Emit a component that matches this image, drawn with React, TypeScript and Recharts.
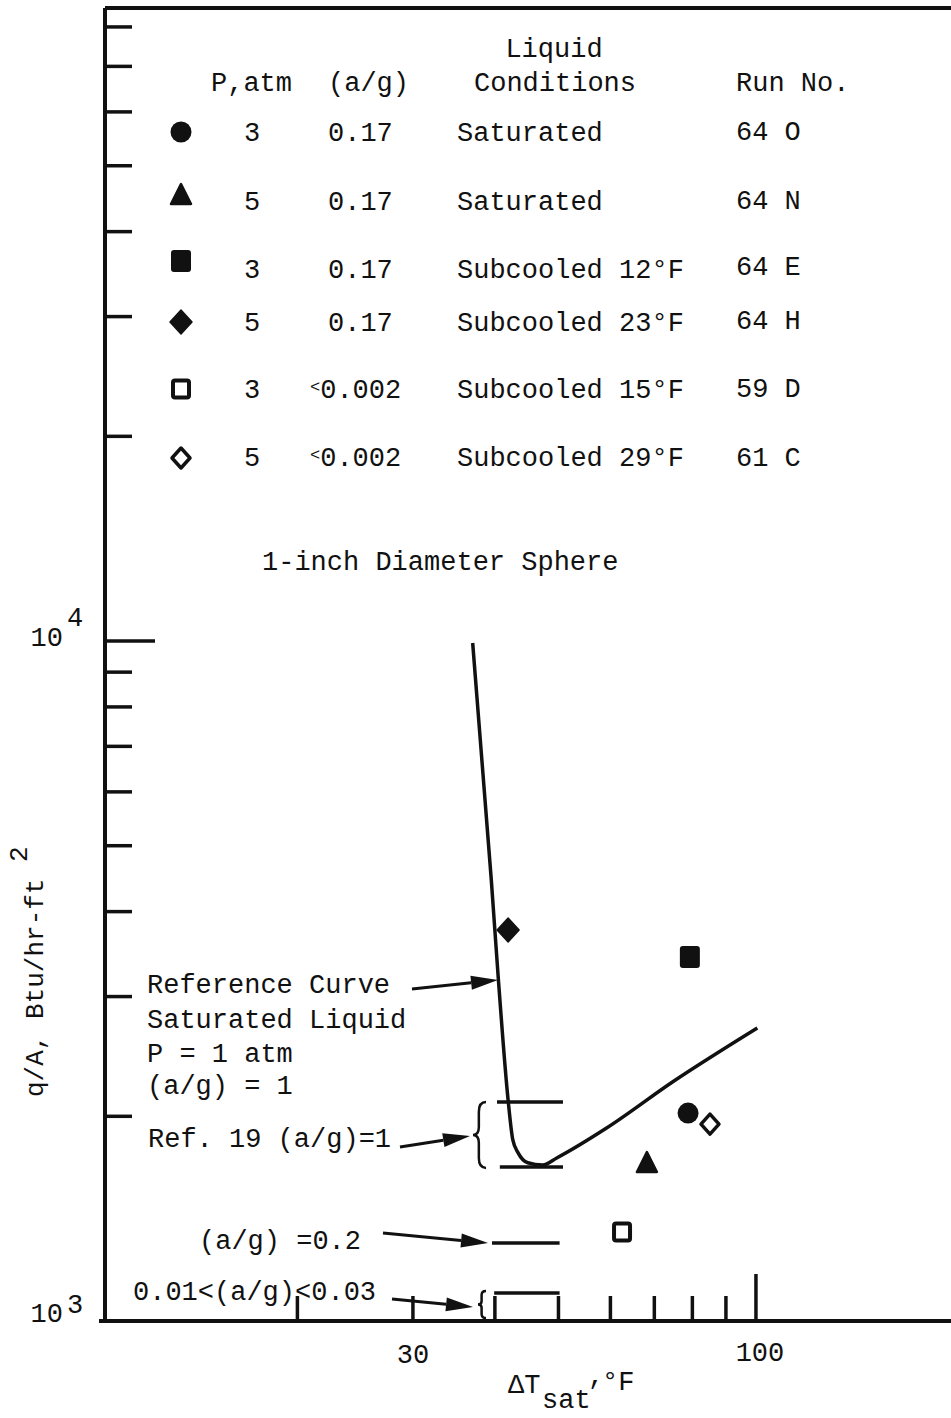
import React from 'react'
import { ComposedChart, XAxis, YAxis, Scatter, Line } from 'recharts'

const W = 951
const H = 1418
const FONT = "'Liberation Mono', 'Courier New', monospace"
const INK = '#111'

// log-log axis ranges
const xDomain = [10.18, 198.3]
const yDomain = [1000, 85300]
const xTicks = [20, 30, 40, 50, 60, 70, 80, 90, 100]
const yTicks = [
  1000, 2000, 3000, 4000, 5000, 6000, 7000, 8000, 9000,
  10000, 20000, 30000, 40000, 50000, 60000, 70000, 80000,
]

// one point per run
const runShape = ['circle', 'triangle', 'square', 'diamond', 'openSquare', 'openDiamond']
const runDeltaT = [78.8, 68.2, 79.3, 41.9, 62.5, 85.1]
const runFlux = [2022, 1696, 3430, 3758, 1352, 1948]
const runP = ['3', '5', '3', '5', '3', '5']
const runAG = ['0.17', '0.17', '0.17', '0.17', '<0.002', '<0.002']
const runCond = ['Saturated', 'Saturated', 'Subcooled 12°F', 'Subcooled 23°F', 'Subcooled 15°F', 'Subcooled 29°F']
const runNo = ['64 O', '64 N', '64 E', '64 H', '59 D', '61 C']

// reference curve, saturated liquid, 1 atm, a/g = 1
const refDeltaT = [37.0, 39.5, 40.5, 41.9, 42.6, 43.4, 44.9, 47.3, 49.7, 59.2, 74.7, 100.5]
const refFlux = [9933, 4452, 3173, 2113, 1846, 1767, 1709, 1696, 1737, 1922, 2248, 2697]

// short horizontal levels for the other a/g data
const levelX0 = [40.3, 40.7, 39.6, 39.9]
const levelX1 = [50.8, 50.8, 50.2, 50.2]
const levelFlux = [2099, 1685, 1302, 1099]

const runs = runShape.map((s, i) => ({ shape: s, data: [{ x: runDeltaT[i], y: runFlux[i] }] }))
const refData = refDeltaT.map((x, i) => ({ x, y: refFlux[i] }))
const levels = levelFlux.map((y, i) => [{ x: levelX0[i], y }, { x: levelX1[i], y }])

function Marker({ cx, cy, kind }: { cx: number; cy: number; kind: string }) {
  switch (kind) {
    case 'circle':
      return <circle cx={cx} cy={cy} r={10.5} fill={INK} />
    case 'triangle':
      return (
        <path
          d={`M${cx},${cy - 13} L${cx + 10},${cy + 7} L${cx - 10},${cy + 7} Z`}
          fill={INK} stroke={INK} strokeWidth={2.5} strokeLinejoin="round"
        />
      )
    case 'square':
      return <rect x={cx - 10} y={cy - 11} width={20} height={22} rx={3} fill={INK} />
    case 'diamond':
      return (
        <path
          d={`M${cx},${cy - 12} L${cx + 11},${cy} L${cx},${cy + 12} L${cx - 11},${cy} Z`}
          fill={INK} stroke={INK} strokeWidth={1.5} strokeLinejoin="round"
        />
      )
    case 'openSquare':
      return <rect x={cx - 8} y={cy - 8.5} width={16} height={17} rx={2} fill="#fff" stroke={INK} strokeWidth={4} />
    default:
      return (
        <path
          d={`M${cx},${cy - 10} L${cx + 9},${cy} L${cx},${cy + 10} L${cx - 9},${cy} Z`}
          fill="#fff" stroke={INK} strokeWidth={3.5} strokeLinejoin="round"
        />
      )
  }
}

function XTick(props: any) {
  const { x, y, payload } = props
  const v = payload.value
  return (
    <g>
      <line x1={x} y1={y} x2={x} y2={y - (v === 100 ? 47 : 25)} stroke={INK} strokeWidth={3.5} />
      {v === 30 && (
        <text x={x} y={y + 42} textAnchor="middle" fontFamily={FONT} fontSize={27} fill={INK}>30</text>
      )}
      {v === 100 && (
        <text x={x + 4} y={y + 40} textAnchor="middle" fontFamily={FONT} fontSize={27} fill={INK}>100</text>
      )}
    </g>
  )
}

function YTick(props: any) {
  const { x, y, payload } = props
  const v = payload.value
  const len = v === 10000 ? 50 : 27
  return (
    <g>
      {v !== 1000 && <line x1={x} y1={y} x2={x + len} y2={y} stroke={INK} strokeWidth={3.5} />}
      {v === 10000 && (
        <g fontFamily={FONT} fontSize={27} fill={INK}>
          <text x={x - 42} y={y + 5} textAnchor="end">10</text>
          <text x={x - 38} y={y - 15}>4</text>
        </g>
      )}
      {v === 1000 && (
        <g fontFamily={FONT} fontSize={27} fill={INK}>
          <text x={x - 42} y={y + 1} textAnchor="end">10</text>
          <text x={x - 38} y={y - 8}>3</text>
        </g>
      )}
    </g>
  )
}

function Arrow({ x1, y1, x2, y2 }: { x1: number; y1: number; x2: number; y2: number }) {
  const a = Math.atan2(y2 - y1, x2 - x1)
  const len = 27
  const hw = 7
  const bx = x2 - len * Math.cos(a)
  const by = y2 - len * Math.sin(a)
  const px = -Math.sin(a) * hw
  const py = Math.cos(a) * hw
  return (
    <g>
      <line x1={x1} y1={y1} x2={bx} y2={by} stroke={INK} strokeWidth={3} />
      <path d={`M${x2},${y2} L${bx + px},${by + py} L${bx - px},${by - py} Z`} fill={INK} />
    </g>
  )
}

function Brace({ x, y1, y2, w }: { x: number; y1: number; y2: number; w: number }) {
  const ym = (y1 + y2) / 2
  const h = y2 - y1
  const xm = x + w * 0.45
  const xr = x + w
  const d =
    `M${xr},${y1} Q${xm},${y1} ${xm},${y1 + h * 0.15} L${xm},${ym - h * 0.12} Q${xm},${ym} ${x},${ym} ` +
    `Q${xm},${ym} ${xm},${ym + h * 0.12} L${xm},${y2 - h * 0.15} Q${xm},${y2} ${xr},${y2}`
  return <path d={d} fill="none" stroke={INK} strokeWidth={2.5} />
}

const rowSymbolY = [132, 197, 261, 322, 389, 458]
const rowTextY = [141, 210, 278, 331, 398, 466]
const rowRunY = [140, 209, 275, 329, 397, 466]

function Annotations() {
  return (
    <svg width={W} height={H} style={{ position: 'absolute', left: 0, top: 0, pointerEvents: 'none' }}>
      <g fontFamily={FONT} fontSize={27} fill={INK}>
        {/* legend table */}
        <text x={554} y={57} textAnchor="middle">Liquid</text>
        <text x={211} y={91}>P,atm</text>
        <text x={328} y={91}>(a/g)</text>
        <text x={474} y={91}>Conditions</text>
        <text x={736} y={91}>Run No.</text>
        {runShape.map((s, i) => (
          <g key={s}>
            <Marker cx={181} cy={rowSymbolY[i]} kind={s} />
            <text x={252} y={rowTextY[i]} textAnchor="middle">{runP[i]}</text>
            {runAG[i].startsWith('<') ? (
              <text x={310} y={rowTextY[i]}>
                <tspan fontSize={17} dy={-6}>{'<'}</tspan>
                <tspan dy={6}>{runAG[i].slice(1)}</tspan>
              </text>
            ) : (
              <text x={328} y={rowTextY[i]}>{runAG[i]}</text>
            )}
            <text x={457} y={rowTextY[i]}>{runCond[i]}</text>
            <text x={736} y={rowRunY[i]}>{runNo[i]}</text>
          </g>
        ))}

        <text x={262} y={570}>1-inch Diameter Sphere</text>

        {/* notes on the left */}
        <text x={147} y={993}>Reference Curve</text>
        <text x={147} y={1028}>Saturated Liquid</text>
        <text x={147} y={1062}>P = 1 atm</text>
        <text x={147} y={1094}>(a/g) = 1</text>
        <text x={148} y={1147}>Ref. 19 (a/g)=1</text>
        <text x={199} y={1249}>(a/g) =0.2</text>
        <text x={133} y={1300}>0.01&lt;(a/g)&lt;0.03</text>

        {/* axis titles */}
        <text x={508} y={1393}>ΔT</text>
        <text x={542} y={1408}>sat</text>
        <text x={588} y={1384}>,</text>
        <text x={602} y={1390}>°F</text>
        <g fontSize={26}>
          <text transform="translate(43,1097) rotate(-90)">q/A, Btu/hr-ft</text>
          <text transform="translate(27,862) rotate(-90)">2</text>
        </g>
      </g>

      <Arrow x1={412} y1={989} x2={498} y2={980} />
      <Arrow x1={400} y1={1147} x2={470} y2={1136} />
      <Arrow x1={383} y1={1233} x2={488} y2={1243} />
      <Arrow x1={392} y1={1299} x2={473} y2={1307} />
      <Brace x={473} y1={1102} y2={1168} w={13} />
      <Brace x={478} y1={1291} y2={1318} w={8} />
      {/* x axis runs a little past the y axis */}
      <line x1={99} y1={1321} x2={106} y2={1321} stroke={INK} strokeWidth={4} />
    </svg>
  )
}

export default function App() {
  return (
    <div style={{ position: 'absolute', left: 0, top: 0, width: W, height: H, background: '#fff' }}>
      <ComposedChart width={W} height={H} margin={{ top: 7, right: 0, bottom: 96, left: 104 }}>
        <XAxis
          type="number" dataKey="x" scale="log" domain={xDomain} allowDataOverflow
          ticks={xTicks} tick={XTick} tickLine={false} tickSize={0} tickMargin={0} height={1}
          axisLine={{ stroke: INK, strokeWidth: 4 }}
        />
        <YAxis
          type="number" dataKey="y" scale="log" domain={yDomain} allowDataOverflow
          ticks={yTicks} tick={YTick} tickLine={false} tickSize={0} tickMargin={0} width={1}
          axisLine={{ stroke: INK, strokeWidth: 4 }}
        />
        <XAxis xAxisId="top" orientation="top" type="number" scale="log" domain={xDomain} allowDataOverflow
          tick={false} tickLine={false} height={1} axisLine={{ stroke: INK, strokeWidth: 4 }} />
        <Line data={refData} dataKey="y" type="monotone" stroke={INK} strokeWidth={3.5} dot={false} isAnimationActive={false} />
        {levels.map((d, i) => (
          <Line key={i} data={d} dataKey="y" stroke={INK} strokeWidth={3.5} dot={false} isAnimationActive={false} />
        ))}
        {runs.map(r => (
          <Scatter
            key={r.shape} data={r.data} isAnimationActive={false}
            shape={(p: any) => <Marker cx={p.cx} cy={p.cy} kind={r.shape} />}
          />
        ))}
      </ComposedChart>
      <Annotations />
    </div>
  )
}
